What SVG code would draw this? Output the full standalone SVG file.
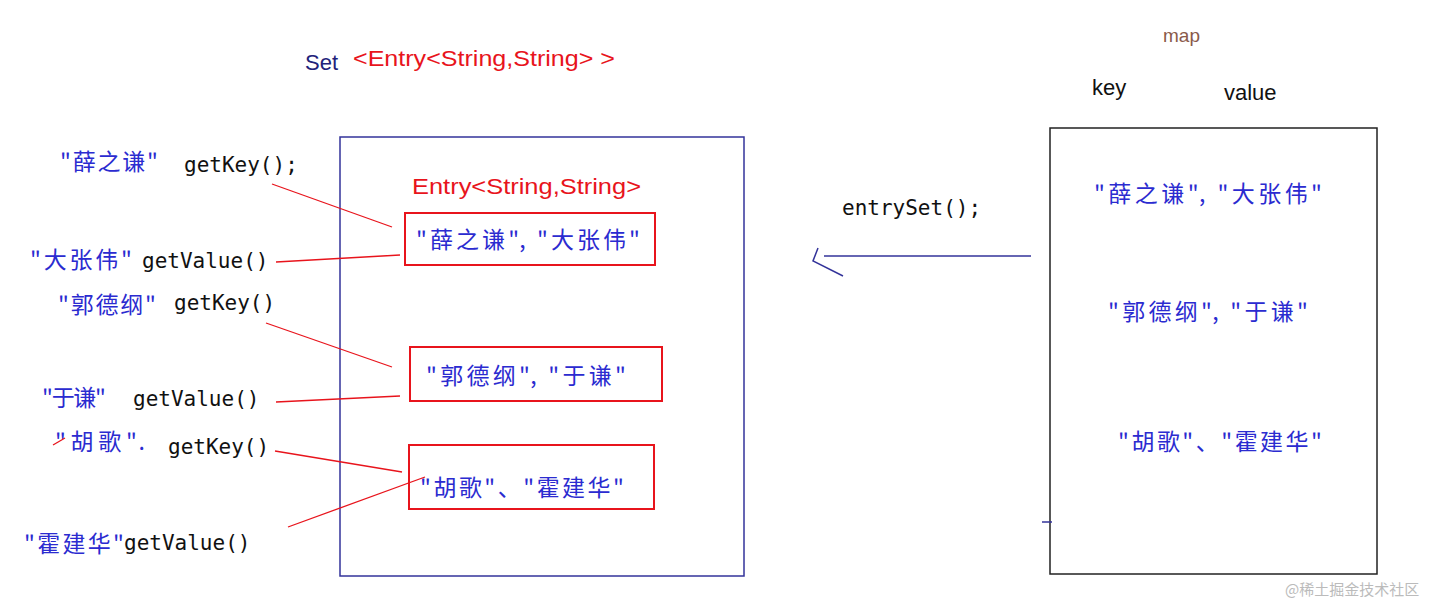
<svg xmlns="http://www.w3.org/2000/svg" width="1451" height="607" viewBox="0 0 1451 607">
<style>
.cn{font-family:"Noto Sans CJK SC",sans-serif;font-size:23px;fill:#2b2bd0}
.code{font-family:"DejaVu Sans Mono",monospace;font-size:21px;fill:#111}
.red{font-family:"Liberation Sans",sans-serif;font-size:22px;fill:#e8141c}
.rbox{fill:none;stroke:#e8141c;stroke-width:2}
.rl{stroke:#e8141c;stroke-width:1.3;fill:none}
</style>
<rect width="1451" height="607" fill="#fff"/>
<g id="title">
<text x="305" y="70" font-family="Liberation Sans,sans-serif" font-size="22" fill="#22227a">Set</text>
<text x="353" y="66" class="red" textLength="262" lengthAdjust="spacingAndGlyphs">&lt;Entry&lt;String,String&gt; &gt;</text>
</g>
<g id="set-box"><rect x="340" y="137" width="404" height="439" fill="none" stroke="#33339a" stroke-width="1.5"/>
<text x="412" y="194" class="red" textLength="229" lengthAdjust="spacingAndGlyphs">Entry&lt;String,String&gt;</text></g>
<g id="entry1"><rect x="405" y="213" width="250" height="52" class="rbox"/><text x="416" y="248" class="cn" textLength="224" lengthAdjust="spacing">"薛之谦", "大张伟"</text></g>
<g id="entry2"><rect x="410" y="347" width="252" height="54" class="rbox"/><text x="426" y="384" class="cn" textLength="200" lengthAdjust="spacing">"郭德纲", "于谦"</text></g>
<g id="entry3"><rect x="409" y="445" width="245" height="64" class="rbox"/><text x="420" y="496" class="cn" textLength="204" lengthAdjust="spacing">"胡歌"、"霍建华"</text></g>
<g id="left-labels">
<text x="60" y="170" class="cn" textLength="98" lengthAdjust="spacing">"薛之谦"</text><text x="184" y="172" class="code">getKey();</text>
<text x="30" y="268" class="cn" textLength="102" lengthAdjust="spacing">"大张伟"</text><text x="142" y="268" class="code">getValue()</text>
<text x="58" y="313" class="cn" font-size="20" textLength="98" lengthAdjust="spacing">"郭德纲"</text><text x="174" y="310" class="code">getKey()</text>
<text x="42" y="406" class="cn" textLength="64" lengthAdjust="spacing">"于谦"</text><text x="133" y="406" class="code">getValue()</text>
<text x="55" y="450" class="cn" textLength="90" lengthAdjust="spacing">"胡歌".</text><text x="168" y="454" class="code">getKey()</text>
<text x="24" y="552" class="cn" textLength="100" lengthAdjust="spacing">"霍建华"</text><text x="124" y="550" class="code">getValue()</text>
</g>
<g id="map-box"><rect x="1050" y="128" width="327" height="446" fill="none" stroke="#222" stroke-width="1.5"/>
<text x="1163" y="42" font-family="Liberation Sans,sans-serif" font-size="19" fill="#8a5a4a">map</text>
<text x="1092" y="95" font-family="Liberation Sans,sans-serif" font-size="22" fill="#111">key</text>
<text x="1224" y="100" font-family="Liberation Sans,sans-serif" font-size="22" fill="#111">value</text>
<text x="1094" y="202" class="cn" textLength="228" lengthAdjust="spacing">"薛之谦", "大张伟"</text>
<text x="1108" y="320" class="cn" textLength="200" lengthAdjust="spacing">"郭德纲", "于谦"</text>
<text x="1118" y="450" class="cn" textLength="204" lengthAdjust="spacing">"胡歌"、"霍建华"</text>
<line x1="1042" y1="522" x2="1052" y2="522" stroke="#33339a" stroke-width="1.5"/></g>
<g id="connectors">
<line x1="272" y1="184" x2="392" y2="227" class="rl"/>
<line x1="276" y1="262" x2="400" y2="255" class="rl"/>
<line x1="266" y1="323" x2="392" y2="367" class="rl"/>
<line x1="276" y1="402" x2="400" y2="396" class="rl"/>
<line x1="275" y1="451" x2="402" y2="472" class="rl"/>
<line x1="288" y1="527" x2="425" y2="477" class="rl"/>
<line x1="53" y1="445" x2="65" y2="438" class="rl"/>
<g stroke="#33339a" stroke-width="1.5" fill="none">
<line x1="1031" y1="256" x2="824" y2="256"/>
<polyline points="818,248 813,261 843,276"/>
</g>
<text x="842" y="215" class="code">entrySet();</text>
</g>
<text x="1285" y="595" font-family="Noto Sans CJK SC,sans-serif" font-size="15" fill="#bbb">@稀土掘金技术社区</text>
</svg>
